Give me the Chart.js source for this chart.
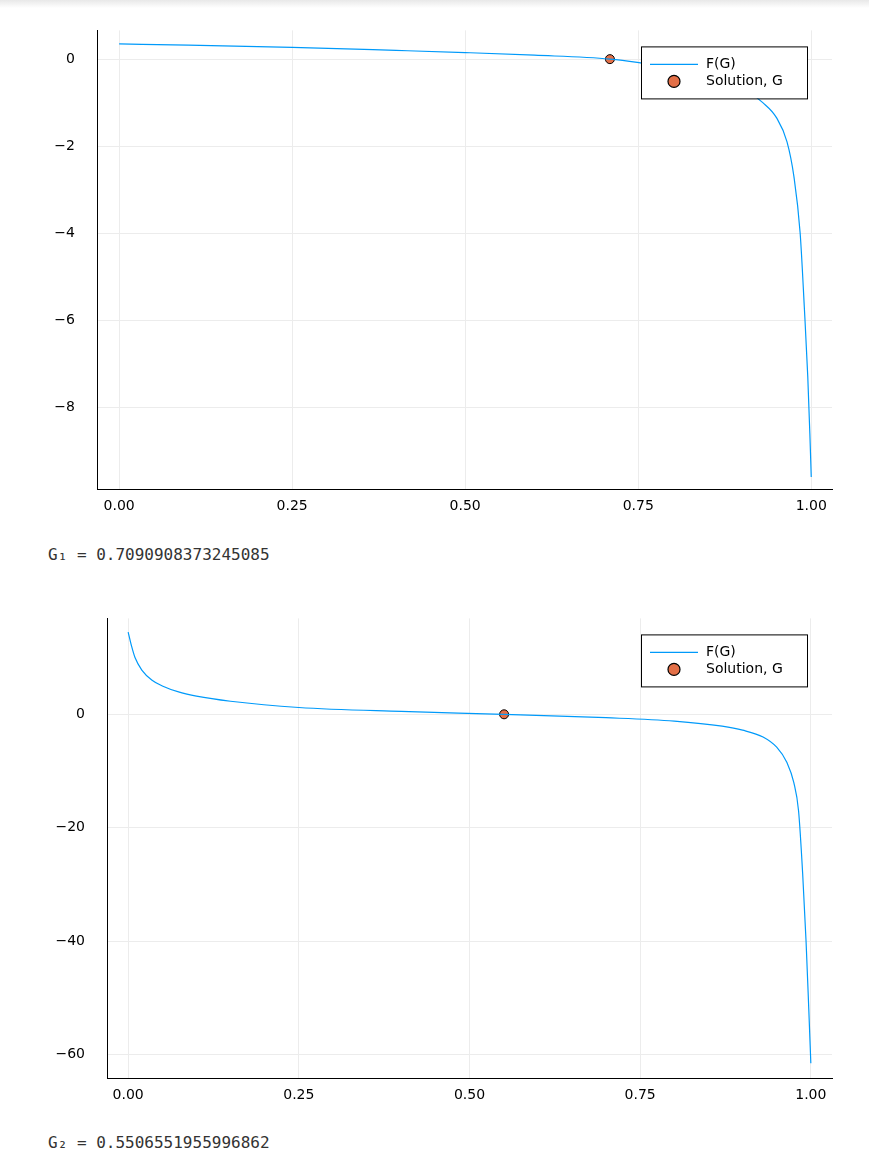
<!DOCTYPE html>
<html><head><meta charset="utf-8">
<script src="https://cdn.jsdelivr.net/npm/chart.js@4"></script>
<style>
body{margin:0;background:#fff;width:869px;height:1166px;position:relative;overflow:hidden}
canvas{position:absolute;left:0}
.txt{position:absolute;left:48px;font:16px "DejaVu Sans Mono",monospace;color:#333}
.shade{position:absolute;left:0;top:0;width:869px;height:8px;background:linear-gradient(#e8e8e8,#fff)}
</style></head><body>
<div class="shade"></div>
<div style="position:absolute;top:0;width:869px;height:520px"><canvas id="c1"></canvas></div>
<div class="txt" style="top:545px">G₁ = 0.7090908373245085</div>
<div style="position:absolute;top:588px;width:869px;height:521px"><canvas id="c2"></canvas></div>
<div class="txt" style="top:1133px">G₂ = 0.5506551955996862</div>
<script>
const g1 = [0, 0.1, 0.25, 0.4, 0.5, 0.6, 0.709, 0.8, 0.85, 0.9, 0.93, 0.95, 0.965, 0.975, 0.984, 0.99, 0.995, 0.998, 1.0];
const f1 = [0.35, 0.32, 0.27, 0.2, 0.15, 0.09, 0.0, -0.2, -0.35, -0.65, -1.0, -1.35, -1.9, -2.7, -4.0, -5.7, -7.3, -8.6, -9.6];
const sol1 = [0.7090908373245085, 0];
const g2 = [0, 0.005, 0.01, 0.02, 0.035, 0.05, 0.075, 0.1, 0.15, 0.25, 0.4, 0.55, 0.7, 0.8, 0.87, 0.9, 0.93, 0.95, 0.965, 0.975, 0.982, 0.988, 0.993, 0.997, 1.0];
const f2 = [14.5, 12, 10, 7.8, 6, 5, 3.9, 3.2, 2.3, 1.2, 0.5, 0, -0.6, -1.2, -2.1, -2.8, -4, -5.8, -8.5, -12, -17, -28, -40, -52, -61.5];
const sol2 = [0.5506551955996862, 0];
const xTicks = [0, 0.25, 0.5, 0.75, 1.0];
const yTicks1 = [-8, -6, -4, -2, 0];
const yTicks2 = [-60, -40, -20, 0];

const legendPlugin = {
  id: 'plotsLegend',
  afterDraw(chart) {
    const ctx = chart.ctx, a = chart.chartArea;
    const x = a.right - 191, y = a.top + 16, w = 166, h = 52;
    ctx.save();
    ctx.fillStyle = '#fff'; ctx.fillRect(x, y, w, h);
    ctx.strokeStyle = '#000'; ctx.lineWidth = 1; ctx.strokeRect(x + 0.5, y + 0.5, w, h);
    ctx.strokeStyle = '#009AFA'; ctx.lineWidth = 1.2;
    ctx.beginPath(); ctx.moveTo(x + 9, y + 18); ctx.lineTo(x + 57, y + 18); ctx.stroke();
    ctx.fillStyle = '#E36F47'; ctx.strokeStyle = '#000';
    ctx.beginPath(); ctx.arc(x + 33, y + 35, 6, 0, Math.PI * 2); ctx.fill(); ctx.stroke();
    ctx.fillStyle = '#000'; ctx.font = '14px "DejaVu Sans", sans-serif'; ctx.textBaseline = 'middle';
    ctx.fillText('F(G)', x + 65, y + 18);
    ctx.fillText('Solution, G', x + 65, y + 35);
    ctx.restore();
  }
};

function make(id, gs, fs, sol, yTicks, ymin, ymax, xmin, xmax, yw) {
  const fmtX = v => v.toFixed(2);
  const fmtY = v => (v < 0 ? '\u2212' + (-v) : String(v));
  new Chart(document.getElementById(id), {
    type: 'scatter',
    data: { datasets: [
      { data: gs.map((g, i) => ({x: g, y: fs[i]})), showLine: true, borderColor: '#009AFA', borderWidth: 1.2, pointRadius: 0, tension: 0.3, cubicInterpolationMode: 'monotone' },
      { data: [{x: sol[0], y: sol[1]}], pointRadius: 4.5, backgroundColor: '#E36F47', borderColor: '#000', borderWidth: 1 }
    ]},
    options: {
      animation: false, responsive: true, maintainAspectRatio: false,
      layout: { padding: { top: 0, right: 37 } },
      plugins: { legend: { display: false }, tooltip: { enabled: false } },
      scales: {
        x: { type: 'linear', min: xmin, max: xmax,
          afterBuildTicks: s => { s.ticks = xTicks.map(v => ({value: v})); },
          afterFit: s => { s.height = 30; },
          grid: { color: '#ececec', drawTicks: false },
          border: { color: '#000', width: 1 },
          ticks: { callback: fmtX, color: '#000', padding: 8, maxRotation: 0, font: { size: 14, family: 'DejaVu Sans' } } },
        y: { min: ymin, max: ymax,
          afterBuildTicks: s => { s.ticks = yTicks.map(v => ({value: v})); },
          afterFit: s => { s.width = yw; },
          grid: { color: '#ececec', drawTicks: false },
          border: { color: '#000', width: 1 },
          ticks: { callback: fmtY, color: '#000', padding: 22, font: { size: 14, family: 'DejaVu Sans' } } }
      }
    },
    plugins: [legendPlugin]
  });
}
make('c1', g1, f1, sol1, yTicks1, -9.89, 0.66, -0.032, 1.03, 97);
make('c2', g2, f2, sol2, yTicks2, -64.2, 16.9, -0.031, 1.031, 107);
</script>
</body></html>
